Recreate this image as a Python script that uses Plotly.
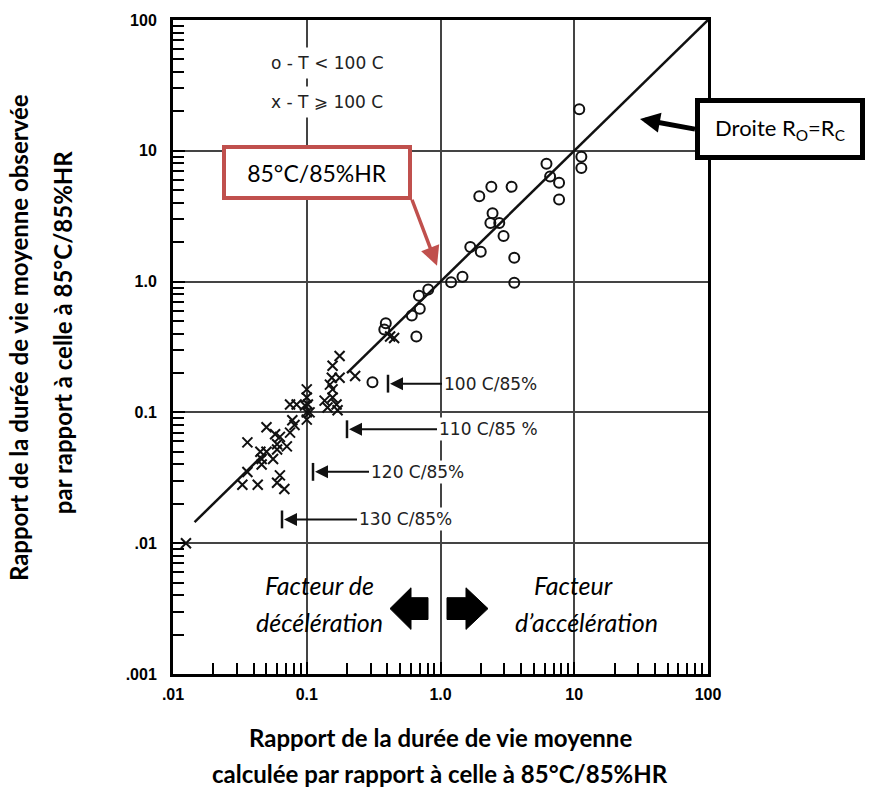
import plotly.graph_objects as go

# Observed vs. calculated mean-life ratios (relative to 85°C/85%RH)
circ_x = [10.9, 11.3, 11.3, 6.2, 6.6, 7.7, 7.7, 2.4, 3.4, 1.95, 2.45, 2.36, 2.75, 2.96,
          1.67, 2.0, 3.56, 1.46, 1.2, 3.56, 0.81, 0.69, 0.70, 0.61, 0.66, 0.39, 0.38, 0.31]
circ_y = [20.8, 9.0, 7.4, 7.97, 6.36, 5.7, 4.25, 5.3, 5.3, 4.5, 3.33, 2.8, 2.8, 2.23,
          1.84, 1.69, 1.52, 1.09, 0.99, 0.98, 0.87, 0.78, 0.62, 0.55, 0.38, 0.48, 0.43, 0.17]

cross_x = [0.42, 0.45, 0.23, 0.176, 0.156, 0.176, 0.154, 0.149, 0.156, 0.156, 0.136, 0.167,
           0.143, 0.17, 0.1, 0.1, 0.102, 0.1, 0.075, 0.084, 0.097, 0.105, 0.1, 0.078, 0.081,
           0.075, 0.05, 0.058, 0.063, 0.06, 0.071, 0.06, 0.036, 0.045, 0.05, 0.046, 0.056,
           0.046, 0.036, 0.033, 0.043, 0.063, 0.06, 0.068, 0.0125]
cross_y = [0.38, 0.37, 0.19, 0.27, 0.227, 0.184, 0.184, 0.163, 0.15, 0.13, 0.123, 0.115,
           0.109, 0.104, 0.15, 0.13, 0.115, 0.1, 0.115, 0.115, 0.113, 0.1, 0.088, 0.087, 0.08,
           0.07, 0.077, 0.068, 0.065, 0.057, 0.055, 0.052, 0.059, 0.05, 0.05, 0.044, 0.044,
           0.04, 0.035, 0.028, 0.028, 0.033, 0.029, 0.026, 0.01]

# Line Ro = Rc (drawn in two pieces around the crowded region)
diag_x = [0.0145, 0.046, None, 0.2, 100]
diag_y = [0.0145, 0.046, None, 0.2, 100]

x_ticks = [0.01, 0.1, 1, 10, 100]
x_labels = [".01", "0.1", "1.0", "10", "100"]
y_ticks = [0.001, 0.01, 0.1, 1, 10, 100]
y_labels = [".001", ".01", "0.1", "1.0", "10", "100"]

W, H = 877, 789
L, R, T, B = 173, 708, 14, 674


def px(x):
    return (x - L) / (R - L)


def py(y):
    return (B - y) / (B - T)


fig = go.Figure()
fig.add_trace(go.Scatter(x=diag_x, y=diag_y, mode="lines",
                         line=dict(color="#111", width=2.5), hoverinfo="skip"))
fig.add_trace(go.Scatter(x=circ_x, y=circ_y, mode="markers",
                         marker=dict(symbol="circle-open", size=10, color="#111",
                                     line=dict(width=2, color="#111"))))
fig.add_trace(go.Scatter(x=cross_x, y=cross_y, mode="markers",
                         marker=dict(symbol="x-thin-open", size=10, color="#111",
                                     line=dict(width=2, color="#111"))))

axis_common = dict(
    type="log", showgrid=True, gridcolor="#444", gridwidth=1.5,
    showline=True, linecolor="black", linewidth=3, mirror=True,
    ticks="inside", ticklen=12, tickwidth=2, tickcolor="black",
    minor=dict(ticks="inside", ticklen=11, tickwidth=2, tickcolor="black",
               dtick="D1", showgrid=False),
    tickfont=dict(family="Liberation Sans", size=16, color="black", weight="bold"),
    zeroline=False,
)
fig.update_xaxes(range=[-2, 2], tickvals=x_ticks, ticktext=x_labels,
                 ticklabelstandoff=4, **axis_common)
fig.update_yaxes(range=[-3, 2], tickvals=y_ticks, ticktext=y_labels,
                 ticklabelstandoff=10, **axis_common)

ann = []


def note(text, x, y, **kw):
    d = dict(text=text, x=px(x), y=py(y), xref="paper", yref="paper",
             showarrow=False, xanchor="center", yanchor="middle")
    d.update(kw)
    ann.append(d)


def pointer(text, head, tail, xanchor, yanchor, **kw):
    """Text box anchored at the arrow tail, arrow running to the head point."""
    hx, hy = head
    tx, ty = tail
    d = dict(text=text, x=px(hx), y=py(hy), xref="paper", yref="paper",
             showarrow=True, ax=tx - hx, ay=ty - hy,
             xanchor=xanchor, yanchor=yanchor)
    d.update(kw)
    ann.append(d)


title_font = dict(family="Lato", size=24, color="black", weight="bold")
note("Rapport de la durée de vie moyenne", 440, 738, font=title_font)
note("calculée par rapport à celle à 85°C/85%HR", 440, 774, font=title_font)
note("Rapport de la durée de vie moyenne observée", 18, 335, textangle=-90, font=title_font)
note("par rapport à celle à 85°C/85%HR", 62, 330, textangle=-90, font=title_font)

# in-plot key
key_font = dict(family="DejaVu Sans", size=17, color="#222")
note("o - T < 100 C", 327, 57, font=key_font, bgcolor="white", borderpad=5)
note("x - T ⩾ 100 C", 327, 97, font=key_font, bgcolor="white", borderpad=5)

# test-condition labels with arrows to bars
cond = [("100 C/85%", 388, 381, 445), ("110 C/85 %", 347, 427, 440),
        ("120 C/85%", 313, 470, 372), ("130 C/85%", 282, 518, 360)]
shapes = []
for text, bx, by, tx in cond:
    shapes.append(dict(type="line", xref="paper", yref="paper", x0=px(bx), x1=px(bx),
                       y0=py(by - 9), y1=py(by + 9), line=dict(color="#111", width=2.5)))
    pointer(text, (bx + 2, by), (tx - 3, by), "left", "middle",
            arrowhead=2, arrowsize=1.3, arrowwidth=2, arrowcolor="#111",
            font=dict(family="DejaVu Sans", size=17, color="#222"),
            bgcolor="white", borderpad=1)

# red 85/85 callout, arrow leaving from the box corner
pointer("85°C/85%HR", (437, 262), (412, 196), "right", "bottom",
        font=dict(family="Lato", size=23, color="black"),
        bgcolor="white", bordercolor="#c0504d", borderwidth=4,
        width=182, height=47, borderpad=0,
        arrowhead=2, arrowsize=1.1, arrowwidth=3.5, arrowcolor="#c0504d")

# Ro = Rc callout, arrow leaving from the left side of the box
pointer("Droite R<sub>O</sub>=R<sub>C</sub>", (640, 114), (695, 124), "left", "middle",
        font=dict(family="Lato", size=22, color="black"),
        bgcolor="white", bordercolor="black", borderwidth=5,
        width=160, height=52, borderpad=0,
        arrowhead=2, arrowsize=0.8, arrowwidth=5, arrowcolor="black")

# acceleration / deceleration labels
it_font = dict(family="Lato", size=25, color="black", style="italic")
note("Facteur de", 319, 584, font=it_font)
note("décélération", 319, 622, font=it_font)
note("Facteur", 573, 584, font=it_font)
note("d’accélération", 586, 622, font=it_font)


def block_arrow(tip, back, end, cy, hh, sh):
    pts = [(tip, cy), (back, cy - hh), (back, cy - sh), (end, cy - sh),
           (end, cy + sh), (back, cy + sh), (back, cy + hh)]
    d = "M " + " L ".join(f"{px(a):.5f},{py(b):.5f}" for a, b in pts) + " Z"
    return dict(type="path", xref="paper", yref="paper", path=d,
                fillcolor="black", line=dict(color="black", width=1))


shapes.append(block_arrow(390, 411, 428, 608, 21, 11))
shapes.append(block_arrow(488, 466, 447, 608, 21, 11))

fig.update_layout(
    width=W, height=H, margin=dict(l=L, r=W - R, t=T, b=H - B),
    paper_bgcolor="white", plot_bgcolor="white", showlegend=False,
    annotations=ann, shapes=shapes,
)

fig.write_html("out.html")
